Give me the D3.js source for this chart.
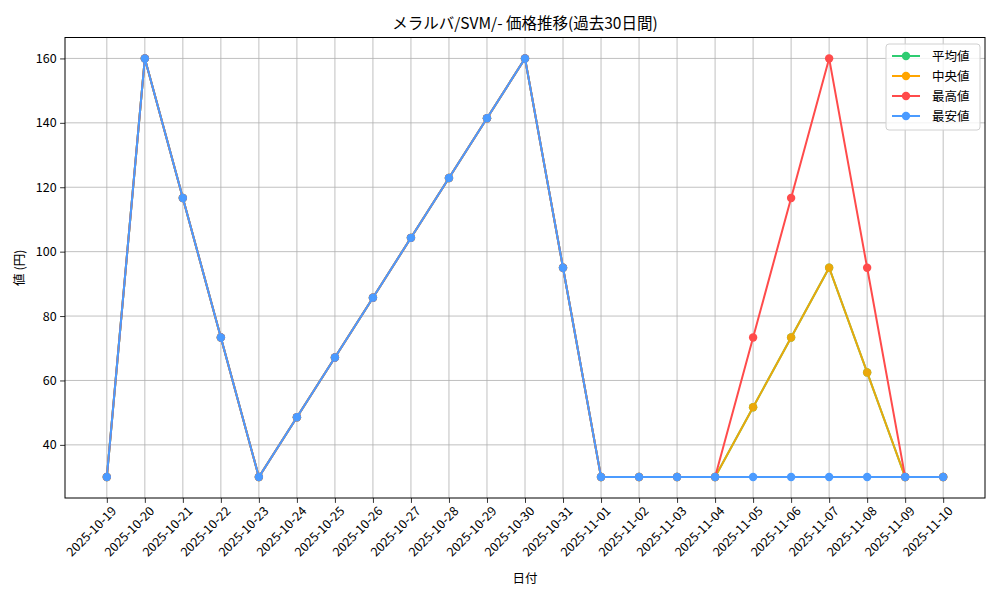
<!DOCTYPE html>
<html><head><meta charset="utf-8">
<script src="https://cdn.jsdelivr.net/npm/d3@7"></script>
<style>
body{margin:0;background:#fff;}
text{font-family:"Noto Sans CJK JP","DejaVu Sans",sans-serif;fill:#000;}
</style></head>
<body><svg id="c" width="1000" height="600"></svg>
<script>
const dates = ["2025-10-19","2025-10-20","2025-10-21","2025-10-22","2025-10-23","2025-10-24","2025-10-25","2025-10-26","2025-10-27","2025-10-28","2025-10-29","2025-10-30","2025-10-31","2025-11-01","2025-11-02","2025-11-03","2025-11-04","2025-11-05","2025-11-06","2025-11-07","2025-11-08","2025-11-09","2025-11-10"];
const avgVals = [30,160,116.67,73.33,30,48.57,67.14,85.71,104.29,122.86,141.43,160,95,30,30,30,30,51.67,73.33,95,62.5,30,30];
const medVals = [30,160,116.67,73.33,30,48.57,67.14,85.71,104.29,122.86,141.43,160,95,30,30,30,30,51.67,73.33,95,62.5,30,30];
const maxVals = [30,160,116.67,73.33,30,48.57,67.14,85.71,104.29,122.86,141.43,160,95,30,30,30,30,73.33,116.67,160,95,30,30];
const minVals = [30,160,116.67,73.33,30,48.57,67.14,85.71,104.29,122.86,141.43,160,95,30,30,30,30,30,30,30,30,30,30];
const seriesNames = ["平均値","中央値","最高値","最安値"];
const seriesColors = ["#2ecc71","#ffa500","#ff4b4b","#4b9bff"];
const seriesVals = [avgVals, medVals, maxVals, minVals];
const yTicks = [40,60,80,100,120,140,160];
const titleText = "メラルバ/SVM/- 価格推移(過去30日間)";
const xLabel = "日付", yLabel = "値 (円)";

const svg = d3.select("#c");
const L=65, R=985, T=37.5, B=498;
const x = d3.scaleLinear().domain([-1.1, dates.length-1+1.1]).range([L,R]);
const y = d3.scaleLinear().domain([23.5,166.5]).range([B,T]);

// grid
const g = svg.append("g");
g.selectAll("line.vg").data(dates).enter().append("line")
  .attr("x1",(d,i)=>x(i)).attr("x2",(d,i)=>x(i)).attr("y1",T).attr("y2",B)
  .attr("stroke","#b0b0b0").attr("stroke-width",0.8);
g.selectAll("line.hg").data(yTicks).enter().append("line")
  .attr("x1",L).attr("x2",R).attr("y1",d=>y(d)).attr("y2",d=>y(d))
  .attr("stroke","#b0b0b0").attr("stroke-width",0.8);

// axes
const xAxis = d3.axisBottom(x).tickValues(d3.range(dates.length)).tickFormat(i=>dates[i]).tickSize(4.9).tickPadding(3.5);
const xg = svg.append("g").attr("transform",`translate(0,${B})`).call(xAxis);
xg.select(".domain").remove();
xg.selectAll(".tick line").attr("stroke","#000").attr("stroke-width",0.8);
xg.selectAll(".tick text").style("font-size","12.5px").attr("text-anchor","end")
  .attr("dy","0").attr("transform","translate(4,8) rotate(-45)");

const yAxis = d3.axisLeft(y).tickValues(yTicks).tickSize(4.9).tickPadding(3.5);
const yg = svg.append("g").attr("transform",`translate(${L},0)`).call(yAxis);
yg.select(".domain").remove();
yg.selectAll(".tick line").attr("stroke","#000").attr("stroke-width",0.8);
yg.selectAll(".tick text").style("font-size","12.5px");

// series
const seriesOpacity = [1,0.9,1,1];
seriesVals.forEach((vals,si)=>{
  const line = d3.line().x((d,i)=>x(i)).y(d=>y(d));
  const sg = svg.append("g").attr("opacity",seriesOpacity[si]);
  sg.append("path").datum(vals).attr("d",line).attr("fill","none")
    .attr("stroke",seriesColors[si]).attr("stroke-width",2);
  sg.selectAll("circle").data(vals).enter().append("circle")
    .attr("cx",(d,i)=>x(i)).attr("cy",d=>y(d)).attr("r",4.2).attr("fill",seriesColors[si]);
});

// frame
svg.append("rect").attr("x",L).attr("y",T).attr("width",R-L).attr("height",B-T)
  .attr("fill","none").attr("stroke","#000").attr("stroke-width",1);

// title & labels
svg.append("text").attr("x",(L+R)/2).attr("y",29).attr("text-anchor","middle")
  .style("font-size","15.5px").text(titleText);
svg.append("text").attr("x",(L+R)/2).attr("y",583).attr("text-anchor","middle")
  .style("font-size","12.5px").text(xLabel);
svg.append("text").attr("transform",`translate(24,${(T+B)/2}) rotate(-90)`).attr("text-anchor","middle")
  .style("font-size","12.5px").text(yLabel);

// legend
const lg = svg.append("g").attr("transform","translate(886,44)");
lg.append("rect").attr("x",0).attr("y",0).attr("width",94).attr("height",86).attr("rx",3)
  .attr("fill","#fff").attr("fill-opacity",0.8).attr("stroke","#d0d0d0").attr("stroke-width",1);
seriesNames.forEach((n,i)=>{
  const yy = 12 + i*20;
  lg.append("line").attr("x1",6).attr("x2",34).attr("y1",yy).attr("y2",yy)
    .attr("stroke",seriesColors[i]).attr("stroke-width",2);
  lg.append("circle").attr("cx",20).attr("cy",yy).attr("r",4.2).attr("fill",seriesColors[i]);
  lg.append("text").attr("x",46).attr("y",yy+4.5).style("font-size","12.5px").text(n);
});
</script></body></html>
